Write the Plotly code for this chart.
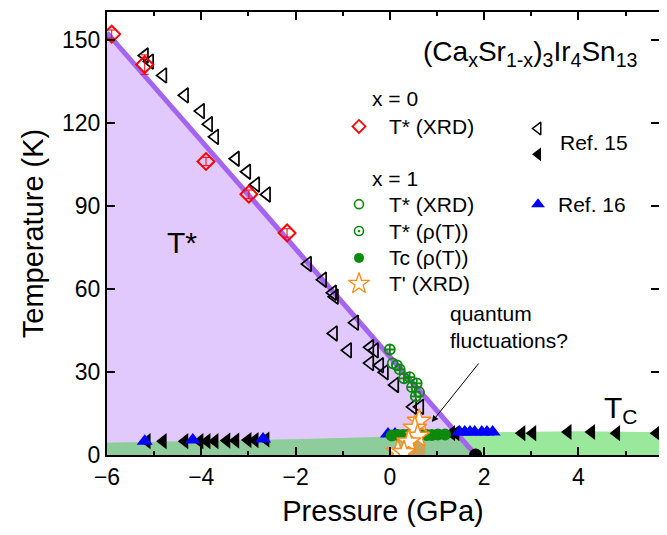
import numpy as np
import plotly.graph_objects as go

# ---------------- data ----------------
# Ref. 15, T* (open left triangles)
ref15_open_P = [-5.20, -5.09, -4.81, -4.35, -4.01, -3.84, -3.71, -3.27, -3.03, -2.84, -2.61,
                -1.74, -1.42, -1.21, -1.17, -0.74, -1.19, -0.89, -0.42, -0.32, -0.42, -0.21,
                -0.11, 0.11, 0.49, 0.64]
ref15_open_T = [144.3, 142.1, 137.1, 129.9, 124.2, 119.5, 114.9, 107.0, 102.3, 97.7, 94.1,
                69.0, 63.3, 58.6, 57.2, 47.8, 43.9, 37.8, 38.9, 37.8, 33.2, 32.4,
                29.9, 25.3, 17.4, 17.4]
# Ref. 15, Tc (filled left triangles)
ref15_fill_P = [-5.15, -4.81, -4.35, -4.03, -3.88, -3.71, -3.46, -3.27, -3.01, -2.86, -2.63,
                1.31, 1.40, 2.80, 3.03, 3.78, 4.28, 4.81, 5.66]
ref15_fill_T = [5.0, 5.0, 5.0, 5.0, 5.0, 5.0, 5.2, 5.2, 5.4, 5.4, 5.6,
                7.9, 7.9, 7.9, 7.9, 8.3, 8.3, 7.9, 7.9]
# Ref. 16 (blue up triangles)
ref16_P = [-5.20, -4.18, -2.69, -0.04, 0.11, 1.48, 1.59, 1.70, 1.80, 1.95, 2.06, 2.18]
ref16_T = [5.0, 5.4, 5.8, 7.6, 7.6, 8.3, 8.3, 8.3, 8.3, 8.3, 8.3, 8.3]
# x = 0, T* (XRD)
x0_xrd_P = [-5.90, -5.20, -3.90, -2.99, -2.18]
x0_xrd_T = [152.0, 141.0, 106.0, 94.2, 80.2]
x0_xrd_err = [1.5, 3.5, 1.5, 1.5, 1.5]
# x = 1, T* (XRD)
x1_xrd_P = [0.00, 0.21, 0.30, 0.42, 0.47, 0.57, 0.55]
x1_xrd_T = [38.1, 30.9, 27.7, 28.1, 24.5, 25.9, 21.2]
# x = 1, T* (rho(T))
x1_rho_P = [0.06, 0.15, 0.62]
x1_rho_T = [33.1, 32.4, 22.7]
# x = 1, Tc (rho(T))
x1_tc_P = [0.04, 0.17, 0.28, 0.38, 0.49, 0.64, 0.78, 0.89, 1.02, 1.17]
x1_tc_T = [7.0, 7.2, 7.2, 7.2, 7.0, 7.2, 7.2, 7.2, 7.4, 7.4]
# x = 1, T' (XRD)
x1_tp_P = [0.62, 0.53, 0.59, 0.40, 0.17, 0.30]
x1_tp_T = [12.2, 9.7, 6.8, 4.7, 1.1, 0.9]

# phase boundaries
tstar_line_P = [-6.0, 1.82]
tstar_line_T = [152.5, 0.0]
tc_band_P = [-6.0, -4.0, -2.0, 0.0, 1.0, 2.0, 3.0, 4.0, 5.0, 5.71]
tc_band_T = [4.4, 5.0, 5.7, 6.6, 7.2, 8.2, 8.5, 8.6, 8.4, 8.2]
tprime_P = [0.25, 0.38, 0.60, 0.75, 0.75]
tprime_T = [0.0, 4.0, 4.5, 3.0, 0.0]
qcp_P = [1.82]
qcp_T = [0.0]

# ---------------- figure ----------------
FONT = "Liberation Sans, Arial, sans-serif"
fig = go.Figure()

# lavender T* region
fig.add_trace(go.Scatter(x=[tstar_line_P[0], tstar_line_P[1], tstar_line_P[0]],
                         y=[tstar_line_T[0], tstar_line_T[1], 0.0],
                         fill="toself", fillcolor="#e1c9fd", line=dict(width=0),
                         mode="lines", hoverinfo="skip", showlegend=False))
# light green Tc band
fig.add_trace(go.Scatter(x=tc_band_P, y=tc_band_T, fill="tozeroy", fillcolor="#99e89b",
                         line=dict(width=0), mode="lines", hoverinfo="skip", showlegend=False))
# dark green overlap of T* region and Tc band
bp = np.array(tc_band_P); bt = np.array(tc_band_T)
slope = (tstar_line_T[1] - tstar_line_T[0]) / (tstar_line_P[1] - tstar_line_P[0])
line_at = tstar_line_T[0] + slope * (bp - tstar_line_P[0])
diff = line_at - bt
k = int(np.where(diff < 0)[0][0])
f = diff[k - 1] / (diff[k - 1] - diff[k])
pi = bp[k - 1] + f * (bp[k] - bp[k - 1])
ti = bt[k - 1] + f * (bt[k] - bt[k - 1])
ov_x = list(bp[:k]) + [pi, tstar_line_P[1], tstar_line_P[0]]
ov_y = list(bt[:k]) + [ti, 0.0, 0.0]
fig.add_trace(go.Scatter(x=ov_x, y=ov_y, fill="toself", fillcolor="#8ecc9c",
                         line=dict(width=0), mode="lines", hoverinfo="skip", showlegend=False))
# T' region
fig.add_trace(go.Scatter(x=tprime_P, y=tprime_T, fill="toself", fillcolor="#c9a35a",
                         line=dict(width=0), mode="lines", hoverinfo="skip", showlegend=False))
# T* line
fig.add_trace(go.Scatter(x=tstar_line_P, y=tstar_line_T, mode="lines",
                         line=dict(color="#a463f0", width=5), showlegend=False))

# data
fig.add_trace(go.Scatter(x=ref15_open_P, y=ref15_open_T, mode="markers",
                         marker=dict(symbol="triangle-left-open", size=13, color="black",
                                     line=dict(width=1.7, color="black")), showlegend=False))
fig.add_trace(go.Scatter(x=ref15_fill_P, y=ref15_fill_T, mode="markers",
                         marker=dict(symbol="triangle-left", size=14, color="black"), showlegend=False))
fig.add_trace(go.Scatter(x=ref16_P, y=ref16_T, mode="markers",
                         marker=dict(symbol="triangle-up", size=14, color="#0000ff"), showlegend=False))
fig.add_trace(go.Scatter(x=x0_xrd_P, y=x0_xrd_T, mode="markers",
                         error_y=dict(type="data", array=x0_xrd_err, color="red", thickness=1, width=4),
                         marker=dict(symbol="diamond-open", size=13, color="red",
                                     line=dict(width=2, color="red")), showlegend=False))
fig.add_trace(go.Scatter(x=x1_tc_P, y=x1_tc_T, mode="markers",
                         marker=dict(symbol="circle", size=12, color="#0b8a0b"), showlegend=False))
fig.add_trace(go.Scatter(x=x1_xrd_P, y=x1_xrd_T, mode="markers",
                         marker=dict(symbol="circle-cross-open", size=10, color="#0b8a0b",
                                     line=dict(width=1.8, color="#0b8a0b")), showlegend=False))
fig.add_trace(go.Scatter(x=x1_rho_P, y=x1_rho_T, mode="markers",
                         marker=dict(symbol="circle-open-dot", size=10, color="#0b8a0b",
                                     line=dict(width=1.8, color="#0b8a0b")), showlegend=False))
fig.add_trace(go.Scatter(x=x1_tp_P, y=x1_tp_T, mode="markers",
                         marker=dict(symbol="star", size=18, color="white",
                                     line=dict(width=1.5, color="#ff8c1a")), showlegend=False))
fig.add_trace(go.Scatter(x=qcp_P, y=qcp_T, mode="markers",
                         marker=dict(symbol="circle", size=13, color="black"), showlegend=False))

# ---------------- legend keys (page-pixel overlay axes) ----------------
LX, LX2 = 359, 538
leg = [
    (LX, 125, dict(symbol="diamond-open", size=10, color="red", line=dict(width=1.8, color="red"))),
    (LX, 203, dict(symbol="circle-open", size=9, color="#0b8a0b", line=dict(width=1.6, color="#0b8a0b"))),
    (LX, 230, dict(symbol="circle-open-dot", size=9, color="#0b8a0b", line=dict(width=1.6, color="#0b8a0b"))),
    (LX, 257, dict(symbol="circle", size=10, color="#0b8a0b")),
    (LX, 283, dict(symbol="star", size=16, color="white", line=dict(width=1.3, color="#ff8c1a"))),
    (LX2, 127, dict(symbol="triangle-left-open", size=11, color="black", line=dict(width=1.5, color="black"))),
    (LX2, 153, dict(symbol="triangle-left", size=12, color="black")),
    (LX2, 203, dict(symbol="triangle-up", size=12, color="#0000ff")),
]
for (px, py, mk) in leg:
    fig.add_trace(go.Scatter(x=[px], y=[py], mode="markers", marker=mk, xaxis="x2", yaxis="y2",
                             showlegend=False, hoverinfo="skip"))

ann = []
def txt(x, y, s, size=21, anchor="left"):
    ann.append(dict(x=x, y=y, xref="x2", yref="y2", text=s, showarrow=False,
                    xanchor=anchor, yanchor="middle", font=dict(family=FONT, size=size, color="black")))

txt(370, 97, "x = 0")
txt(387, 125, "T* (XRD)")
txt(370, 177, "x = 1")
txt(387, 203, "T* (XRD)")
txt(387, 230, "T* (ρ(T))")
txt(387, 257, "Tc (ρ(T))")
txt(387, 283, "T' (XRD)")
txt(558, 141, "Ref. 15")
txt(556, 203, "Ref. 16")
txt(640, 52, "(Ca<sub>x</sub>Sr<sub>1-x</sub>)<sub>3</sub>Ir<sub>4</sub>Sn<sub>13</sub>", size=28, anchor="right")
txt(182, 242, "T*", size=30, anchor="center")
txt(621, 409, "T<sub>C</sub>", size=30, anchor="center")
ann.append(dict(x=448, y=326, xref="x2", yref="y2", text="quantum<br>fluctuations?", showarrow=False,
                xanchor="left", yanchor="middle", align="left",
                font=dict(family=FONT, size=21, color="black")))
# arrow pointing at the T*/Tc crossing region
ann.append(dict(x=0.89, y=11.9, xref="x", yref="y", ax=48, ay=-60, axref="pixel", ayref="pixel",
                showarrow=True, arrowhead=2, arrowsize=1.3, arrowwidth=1, arrowcolor="black", text=""))

axis_common = dict(showline=True, linecolor="black", linewidth=2, mirror="ticks",
                   ticks="inside", ticklen=8, tickwidth=1.5, tickcolor="black",
                   showgrid=False, zeroline=False,
                   tickfont=dict(family=FONT, size=23, color="black"))

# the page body adds an 8 px offset; margins are reduced to keep the plot area in place
fig.update_layout(
    width=659, height=527,
    margin=dict(l=99, r=8, t=2, b=80),
    paper_bgcolor="white", plot_bgcolor="white",
    showlegend=False,
    xaxis=dict(range=[-6, 5.71], dtick=2, tick0=0,
               minor=dict(dtick=1, ticks="inside", ticklen=4, tickcolor="black", tickwidth=1.5),
               title=dict(text="Pressure (GPa)", font=dict(family=FONT, size=29, color="black"), standoff=12),
               **axis_common),
    yaxis=dict(range=[0, 160], dtick=30, tick0=0,
               title=dict(text="Temperature (K)", font=dict(family=FONT, size=29, color="black"), standoff=10),
               **axis_common),
    xaxis2=dict(overlaying="x", range=[107, 659], visible=False, fixedrange=True),
    yaxis2=dict(overlaying="y", range=[455, 10], visible=False, fixedrange=True),
    annotations=ann,
)

fig.write_html("out.html")
